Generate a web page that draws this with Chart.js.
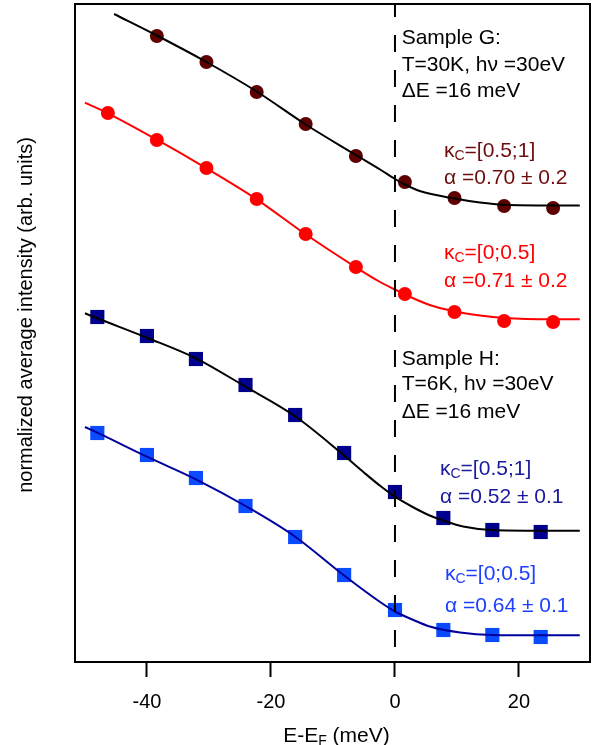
<!DOCTYPE html>
<html>
<head>
<meta charset="utf-8">
<script src="https://cdn.jsdelivr.net/npm/chart.js@4.4.0/dist/chart.umd.min.js"></script>
<style>
  html, body { margin: 0; padding: 0; background: #fff; }
  #wrap { width: 598px; height: 745px; }
</style>
</head>
<body>
<div id="wrap"><canvas id="chart" width="598" height="745"></canvas></div>
<script>
// measured points, energy in meV, intensity in arb. units (curves offset)
const gHighX = [-38.4, -30.4, -22.3, -14.4, -6.3, 1.6, 9.6, 17.6, 25.5];
const gHighY = [6.26, 6.00, 5.70, 5.38, 5.06, 4.80, 4.64, 4.56, 4.54];
const gLowX = [-46.3, -38.4, -30.4, -22.3, -14.4, -6.3, 1.6, 9.6, 17.6, 25.5];
const gLowY = [5.49, 5.22, 4.94, 4.63, 4.28, 3.95, 3.68, 3.50, 3.41, 3.40];
const hX = [-48.0, -40.0, -32.1, -24.1, -16.1, -8.2, 0.0, 7.8, 15.7, 23.5];
const hHighY = [3.45, 3.26, 3.03, 2.77, 2.47, 2.09, 1.70, 1.44, 1.32, 1.30];
const hLowY = [2.29, 2.07, 1.84, 1.56, 1.25, 0.87, 0.52, 0.32, 0.27, 0.25];

// fitted curves
const fitGHighX = [-45.3, -38.4, -30.4, -22.3, -14.4, -6.3, -2.4, 0, 1.6, 4.0, 9.6, 13.7, 17.6, 25.5, 29.8];
const fitGHighY = [6.48, 6.265, 6.00, 5.705, 5.375, 5.07, 4.925, 4.83, 4.775, 4.71, 4.635, 4.595, 4.572, 4.565, 4.565];
const fitGLowX = [-50.0, -46.3, -38.4, -30.4, -22.3, -14.4, -6.3, -2.4, 0, 1.6, 5.6, 9.7, 13.7, 17.6, 25.5, 29.8];
const fitGLowY = [5.593, 5.487, 5.223, 4.937, 4.627, 4.277, 3.947, 3.80, 3.725, 3.675, 3.57, 3.505, 3.465, 3.44, 3.427, 3.427];
const fitHHighX = [-50.0, -48.0, -40.0, -32.1, -24.1, -16.1, -8.3, -5.1, -2.4, 0, 3.0, 5.6, 7.8, 11.0, 15.6, 23.5, 29.8];
const fitHHighY = [3.487, 3.437, 3.243, 3.037, 2.753, 2.457, 2.07, 1.90, 1.762, 1.653, 1.545, 1.465, 1.415, 1.355, 1.32, 1.313, 1.313];
const fitHLowX = [-50.0, -48.0, -40.0, -32.1, -24.1, -16.1, -8.3, -2.4, 0, 3.0, 5.6, 10.5, 15.6, 23.5, 29.8];
const fitHLowY = [2.35, 2.293, 2.053, 1.827, 1.56, 1.253, 0.87, 0.60, 0.505, 0.42, 0.355, 0.295, 0.27, 0.267, 0.267];

const xTicks = [-40, -20, 0, 20];

const FONT = '"Liberation Sans", Arial, Helvetica, sans-serif';

// text notes, anchored in data coordinates (left, baseline)
const notes = [
  { x: 1.08, y: 6.18, color: '#000', parts: [{ t: 'Sample G:' }] },
  { x: 1.08, y: 5.91, color: '#000', parts: [{ t: 'T=30K, h\u03bd =30eV' }] },
  { x: 1.08, y: 5.65, color: '#000', parts: [{ t: '\u0394E =16 meV' }] },
  { x: 7.9, y: 5.053, color: '#6e0d0d', parts: [{ t: '\u03ba' }, { t: 'C', sub: true }, { t: '=[0.5;1]' }] },
  { x: 7.9, y: 4.78, color: '#6e0d0d', parts: [{ t: '\u03b1 =0.70 \u00b1 0.2' }] },
  { x: 7.9, y: 4.027, color: '#ff0000', parts: [{ t: '\u03ba' }, { t: 'C', sub: true }, { t: '=[0;0.5]' }] },
  { x: 7.9, y: 3.747, color: '#ff0000', parts: [{ t: '\u03b1 =0.71 \u00b1 0.2' }] },
  { x: 1.08, y: 2.97, color: '#000', parts: [{ t: 'Sample H:' }] },
  { x: 1.08, y: 2.72, color: '#000', parts: [{ t: 'T=6K, h\u03bd =30eV' }] },
  { x: 1.08, y: 2.443, color: '#000', parts: [{ t: '\u0394E =16 meV' }] },
  { x: 7.26, y: 1.87, color: '#1a1a9c', parts: [{ t: '\u03ba' }, { t: 'C', sub: true }, { t: '=[0.5;1]' }] },
  { x: 7.26, y: 1.587, color: '#1a1a9c', parts: [{ t: '\u03b1 =0.52 \u00b1 0.1' }] },
  { x: 8.06, y: 0.82, color: '#1d40ff', parts: [{ t: '\u03ba' }, { t: 'C', sub: true }, { t: '=[0;0.5]' }] },
  { x: 8.06, y: 0.503, color: '#1d40ff', parts: [{ t: '\u03b1 =0.64 \u00b1 0.1' }] }
];

function pts(xs, ys) {
  return xs.map((x, i) => ({ x: x, y: ys[i] }));
}

function richWidth(ctx, parts, size) {
  let w = 0;
  for (const p of parts) {
    ctx.font = (p.sub ? Math.round(size * 0.65) : size) + 'px ' + FONT;
    w += ctx.measureText(p.t).width;
  }
  return w;
}

function drawRich(ctx, x, y, parts, size, color) {
  ctx.fillStyle = color;
  ctx.textAlign = 'left';
  ctx.textBaseline = 'alphabetic';
  let cx = x;
  for (const p of parts) {
    ctx.font = (p.sub ? Math.round(size * 0.65) : size) + 'px ' + FONT;
    ctx.fillText(p.t, cx, y + (p.sub ? size * 0.15 : 0));
    cx += ctx.measureText(p.t).width;
  }
}

const decor = {
  id: 'decor',
  afterDatasetsDraw(chart) {
    const ctx = chart.ctx;
    const a = chart.chartArea;
    const sx = chart.scales.x, sy = chart.scales.y;
    ctx.save();
    // dashed line at the Fermi level
    const x0 = sx.getPixelForValue(0);
    ctx.strokeStyle = '#000';
    ctx.lineWidth = 2;
    ctx.setLineDash([17, 18]);
    ctx.lineDashOffset = a.top;
    ctx.beginPath();
    ctx.moveTo(x0, a.top);
    ctx.lineTo(x0, a.bottom);
    ctx.stroke();
    ctx.setLineDash([]);
    // frame
    ctx.lineWidth = 2;
    ctx.strokeRect(a.left, a.top, a.right - a.left, a.bottom - a.top);
    // notes
    for (const n of notes) {
      drawRich(ctx, sx.getPixelForValue(n.x), sy.getPixelForValue(n.y), n.parts, 21, n.color);
    }
    // x title
    const xt = [{ t: 'E-E' }, { t: 'F', sub: true }, { t: ' (meV)' }];
    const w = richWidth(ctx, xt, 21);
    drawRich(ctx, (a.left + a.right) / 2 + 4 - w / 2, 742, xt, 21, '#000');
    // y title
    ctx.translate(32, 315);
    ctx.rotate(-Math.PI / 2);
    ctx.font = '20px ' + FONT;
    ctx.textAlign = 'center';
    ctx.textBaseline = 'alphabetic';
    ctx.fillStyle = '#000';
    ctx.fillText('normalized average intensity (arb. units)', 0, 0);
    ctx.restore();
  }
};

function fitSet(xs, ys, color) {
  return {
    data: pts(xs, ys), showLine: true, borderColor: color, borderWidth: 2,
    pointRadius: 0, cubicInterpolationMode: 'monotone', order: 0
  };
}

function markSet(xs, ys, color, style, r) {
  return {
    data: pts(xs, ys), showLine: false, pointStyle: style, pointRadius: r,
    backgroundColor: color, borderColor: color, borderWidth: 0, order: 1
  };
}

new Chart(document.getElementById('chart'), {
  type: 'scatter',
  data: {
    datasets: [
      fitSet(fitGHighX, fitGHighY, '#000000'),
      fitSet(fitGLowX, fitGLowY, '#ff0000'),
      fitSet(fitHHighX, fitHHighY, '#000000'),
      fitSet(fitHLowX, fitHLowY, '#00009c'),
      markSet(gHighX, gHighY, '#5e0000', 'circle', 7),
      markSet(gLowX, gLowY, '#ff0000', 'circle', 7),
      markSet(hX, hHighY, '#00008c', 'rect', 10),
      markSet(hX, hLowY, '#0a4bff', 'rect', 10)
    ]
  },
  options: {
    responsive: false,
    animation: false,
    layout: { autoPadding: false, padding: { top: 4, right: 8, left: 0, bottom: 0 } },
    plugins: { legend: { display: false }, tooltip: { enabled: false } },
    scales: {
      x: {
        type: 'linear', min: -51.6, max: 31.45,
        afterBuildTicks: s => { s.ticks = xTicks.map(v => ({ value: v })); },
        afterFit: s => { s.height = 83; s.paddingLeft = 0; s.paddingRight = 0; },
        grid: { display: true, drawOnChartArea: false, drawTicks: true, tickLength: 15, tickWidth: 2, tickColor: '#000' },
        border: { display: false },
        ticks: { color: '#000', font: { family: FONT, size: 20 }, padding: 13, maxRotation: 0, callback: v => String(v) }
      },
      y: {
        type: 'linear', min: 0, max: 6.58,
        afterFit: s => { s.width = 75; s.paddingTop = 0; s.paddingBottom = 0; },
        grid: { display: false },
        border: { display: false },
        ticks: { display: false }
      }
    }
  },
  plugins: [decor]
});
</script>
</body>
</html>
